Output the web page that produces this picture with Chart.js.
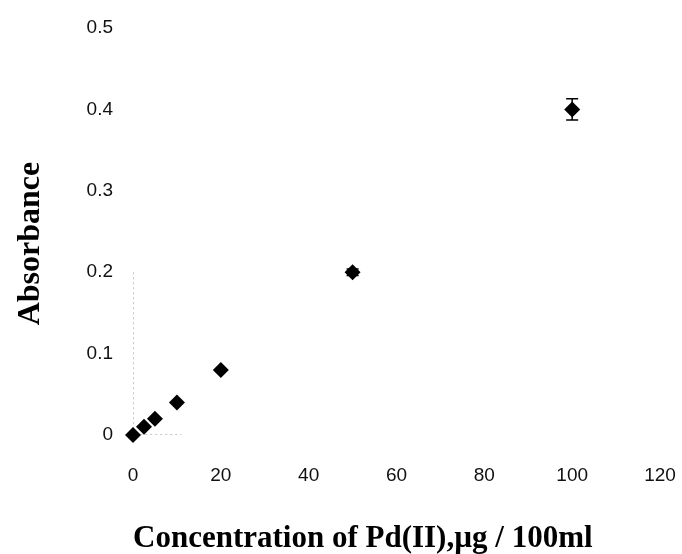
<!DOCTYPE html>
<html>
<head>
<meta charset="utf-8">
<script src="https://cdn.jsdelivr.net/npm/chart.js@4.4.0/dist/chart.umd.min.js"></script>
<style>
  html, body { margin: 0; padding: 0; background: #fff; }
  #wrap { width: 682px; height: 554px; }
</style>
</head>
<body>
<div id="wrap"><canvas id="js--chart"></canvas></div>
<script>
// concentration of Pd(II) in ug / 100ml
const conc = [0, 2.5, 5, 10, 20, 50, 100];
const absorbance = [0, 0.01, 0.02, 0.04, 0.08, 0.2, 0.4];
const errors = [0, 0, 0, 0, 0, 0.004, 0.013];
const xTicks = [0, 20, 40, 60, 80, 100, 120];
const yTicks = [0, 0.1, 0.2, 0.3, 0.4, 0.5];
// faint dashed remains of the axes near the origin
const axisLineX = [0, 0, 11];
const axisLineY = [0.2, 0, 0];

const points = conc.map(function (c, i) {
    return { x: c, y: absorbance[i] };
});
const axisPts = axisLineX.map(function (x, i) {
    return { x: x, y: axisLineY[i] };
});

// draws the vertical error bars with small caps
const errorBars = {
    id: 'errorBars',
    afterDatasetsDraw: function (chart) {
        const ctx = chart.ctx;
        const xs = chart.scales.x;
        const ys = chart.scales.y;
        ctx.save();
        ctx.strokeStyle = '#000';
        ctx.lineWidth = 1.5;
        for (let i = 0; i < conc.length; i++) {
            if (!errors[i]) continue;
            const px = xs.getPixelForValue(conc[i]);
            const top = ys.getPixelForValue(absorbance[i] + errors[i]);
            const bot = ys.getPixelForValue(absorbance[i] - errors[i]);
            ctx.beginPath();
            ctx.moveTo(px, top); ctx.lineTo(px, bot);
            ctx.moveTo(px - 6, top); ctx.lineTo(px + 6, top);
            ctx.moveTo(px - 6, bot); ctx.lineTo(px + 6, bot);
            ctx.stroke();
        }
        ctx.restore();
    }
};

const data = {
    datasets: [
        {
            type: 'scatter',
            label: 'Absorbance',
            data: points,
            pointStyle: 'rectRot',
            pointRadius: 8,
            backgroundColor: '#000',
            borderColor: '#000',
            borderWidth: 0,
            clip: false,
            order: 1
        },
        {
            type: 'line',
            label: 'axis',
            data: axisPts,
            borderColor: '#8a8a8a',
            borderWidth: 1,
            borderDash: [2, 3],
            pointRadius: 0,
            fill: false,
            order: 2
        }
    ]
};

const config = {
    type: 'scatter',
    data: data,
    plugins: [errorBars],
    options: {
        responsive: true,
        maintainAspectRatio: false,
        animation: false,
        layout: { padding: { top: 28, right: 22, bottom: 0, left: 0 } },
        plugins: {
            legend: { display: false },
            tooltip: { enabled: false }
        },
        scales: {
            x: {
                type: 'linear',
                min: 0,
                max: 120,
                afterFit: function (scale) {
                    scale.height = 119;
                    scale.paddingLeft = 0;
                    scale.paddingRight = 0;
                },
                afterBuildTicks: function (scale) {
                    scale.ticks = xTicks.map(function (v) { return { value: v }; });
                },
                grid: { display: false },
                border: { display: false },
                ticks: {
                    padding: 21,
                    color: '#111',
                    font: { family: 'Liberation Sans', size: 19 },
                    maxRotation: 0
                },
                title: {
                    display: true,
                    align: 'start',
                    text: 'Concentration of Pd(II),\u00b5g / 100ml',
                    color: '#000',
                    font: { family: 'Liberation Serif', size: 31, weight: 'bold', lineHeight: 1 },
                    padding: { top: 0, bottom: 0 }
                }
            },
            y: {
                type: 'linear',
                min: 0,
                max: 0.5,
                afterFit: function (scale) {
                    scale.width = 133;
                    scale.paddingTop = 0;
                    scale.paddingBottom = 0;
                },
                afterBuildTicks: function (scale) {
                    scale.ticks = yTicks.map(function (v) { return { value: v }; });
                },
                grid: { display: false },
                border: { display: false },
                ticks: {
                    padding: 12,
                    color: '#111',
                    font: { family: 'Liberation Sans', size: 19 },
                    callback: function (v) { return v === 0 ? '0' : v.toFixed(1); }
                },
                title: {
                    display: true,
                    text: 'Absorbance   ',
                    color: '#000',
                    font: { family: 'Liberation Serif', size: 32, weight: 'bold' },
                    padding: { top: 12, bottom: 0 }
                }
            }
        }
    }
};

const chart1 = new Chart(document.getElementById('js--chart'), config);
</script>
</body>
</html>
